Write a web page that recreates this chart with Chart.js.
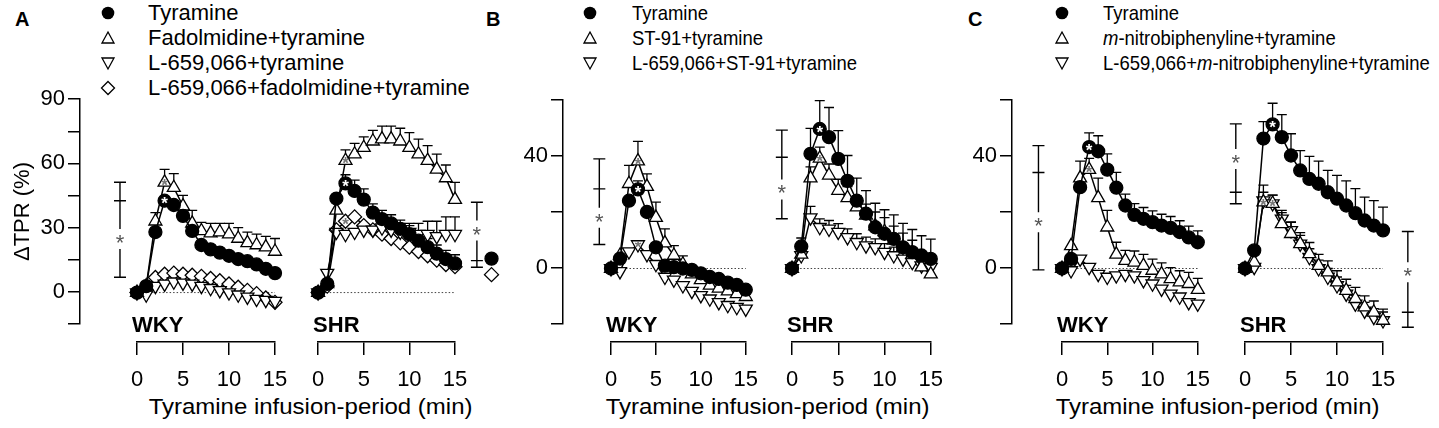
<!DOCTYPE html>
<html>
<head>
<meta charset="utf-8">
<script src="https://cdn.jsdelivr.net/npm/chart.js@4.4.1/dist/chart.umd.min.js"></script>
<style>
  body { margin: 0; background: #fff; font-family: 'Liberation Sans', Arial, sans-serif; color: #000; }
  #fig { position: relative; width: 1439px; height: 428px; overflow: hidden; }
  #fig canvas { position: absolute; }
  .t { position: absolute; white-space: nowrap; line-height: 1; }
  .mk { position: absolute; }
</style>
</head>
<body>
<div id="fig"></div>
<script>
// time points (min)
const minutes = [0, 1, 2, 3, 4, 5, 6, 7, 8, 9, 10, 11, 12, 13, 14, 15];

// Panel A - WKY
const aWkyTyr      = [0, 3, 28, 42.5, 40.5, 35.5, 28.5, 22, 20, 18.5, 17, 15.5, 14.5, 13, 11, 9];
const aWkyTyrErr   = [0, 1, 2, 3, 3, 3, 2, 2, 2, 2, 2, 2, 2, 2, 2, 2];
const aWkyFad      = [0, 3, 33, 51, 48.5, 40, 32, 28.5, 27.5, 28, 27, 25, 23, 22, 21, 19];
const aWkyFadErr   = [0, 1, 4, 6, 6.5, 5, 6, 4, 4.5, 4, 5, 5, 5, 5, 5, 6];
const aWkyL659     = [0, -1, 3, 4, 5, 4.5, 4, 3, 2, 1, 0, -1, -2, -3, -3.5, -4];
const aWkyL659Err  = [0, 1, 2, 3, 3, 3, 3, 3, 3, 3, 3, 3, 3, 3, 3, 3];
const aWkyL659Fad  = [0, 2, 7, 8.5, 9, 8.5, 8, 7.5, 6.5, 5.5, 4, 2.5, 1, -0.5, -2.5, -4.5];
const aWkyL659FadErr = [0, 1, 2, 2, 2, 2, 2, 2, 3, 3, 3, 3, 3, 3, 3, 3];
const aWkyBracket  = [-1.85, 7.1, 51, 42.5, 24.8];   // x, low, high, mark, star

// Panel A - SHR
const aShrTyr      = [0, 4, 43.5, 50.5, 47, 43, 37, 34, 32, 29.5, 27, 24, 21, 18, 15.5, 13.5];
const aShrTyrErr   = [0, 1, 3, 4, 5, 5, 4, 4, 4, 4, 4, 4, 4, 4, 4, 4];
const aShrFad      = [0, 4, 38, 61, 64, 67, 70, 71, 71, 70, 67, 64, 61, 57, 53, 43];
const aShrFadErr   = [0, 1, 3, 5, 5, 5, 5, 6, 6, 6, 7, 7, 7, 7, 6, 8];
const aShrL659     = [0, 9, 28, 27, 28, 29, 29, 30, 29, 28, 28, 27, 27, 26, 27, 27];
const aShrL659Err  = [0, 2, 3, 3, 3, 3, 3, 3, 4, 4, 4, 5, 6, 7, 8, 8];
const aShrL659Fad  = [0, 3, 29, 33, 35, 31, 29, 27, 25, 23, 21, 19, 17, 15, 13, 12];
const aShrL659FadErr = [0, 1, 3, 3, 3, 3, 3, 3, 3, 3, 3, 3, 3, 3, 3, 3];
const aShrBracket  = [17.4, 11.7, 41.8, 14.8, 28.7];
const aShrSideTyr  = [{ x: 19, y: 15.7 }];
const aShrSideDia  = [{ x: 19, y: 8.3 }];

// Panel B - WKY
const bWkyTyr      = [0, 3.5, 24, 28, 20, 7.5, 1, 0.5, 0, -0.5, -1.7, -3, -3.7, -5, -5.8, -7.5];
const bWkyTyrErr   = [0, 1, 2, 3, 2, 2, 1, 1, 1, 1, 1, 1, 1, 1, 1, 1];
const bWkySt91     = [0, 4.6, 30, 38, 29, 18, 9, 4.6, 1.5, -2, -4, -6, -7, -8, -9, -10];
const bWkySt91Err  = [0, 1, 6.5, 7, 4.5, 5.5, 5, 3.5, 3, 3, 3, 3, 3, 3, 3, 3];
const bWkyL659St91 = [0, -1, 6, 8.5, 5, 1.5, -3, -4, -6, -8, -9.5, -10.7, -12, -13, -13.7, -14.3];
const bWkyL659St91Err = [0, 1, 2, 1, 1, 1, 1, 2, 2, 2, 2, 2, 2, 2, 2, 2];
const bWkyBracket  = [-1.3, 8.5, 38.8, 28.2, 18];

// Panel B - SHR
const bShrTyr      = [0, 7.8, 40.6, 49.4, 46.5, 38.8, 31, 24, 19.4, 14.6, 12.3, 10.5, 7.5, 5.8, 4.6, 3.4];
const bShrTyrErr   = [0, 3, 9, 10, 10.5, 10, 9, 8, 8.2, 8.5, 8.5, 8.5, 8.5, 8, 7, 7];
const bShrSt91     = [0, 5, 32, 39, 33, 27.6, 25, 21.7, 18.8, 15, 13, 10, 7.5, 5, 0.5, -2];
const bShrSt91Err  = [0, 2, 4, 4, 4, 4, 4, 4, 4, 5, 5, 5, 5, 5, 5, 5];
const bShrL659St91 = [0, 4.6, 18, 14.6, 14, 12.9, 11, 9.3, 8.1, 7.5, 5.8, 4.6, 3.4, 2.2, 1, 0.5];
const bShrL659St91Err = [0, 2, 4, 3, 3, 3, 3, 3, 3, 3, 3, 3, 3, 3, 3, 3];
const bShrBracket  = [-1.1, 17.6, 49, 39.4, 28];

// Panel C - WKY
const cWkyTyr      = [0, 3.4, 28.8, 43, 41.5, 35, 28.6, 22.3, 19, 17.6, 16.4, 15.2, 14.4, 12.9, 11, 9.3];
const cWkyTyrErr   = [0, 1, 3, 5, 5.5, 5.6, 5.4, 4, 4, 4, 4, 4, 4, 4, 4, 4];
const cWkyMnb      = [0, 8, 32, 35, 25, 14.6, 5, 2.8, 2.2, 1, -0.7, -2, -3.7, -4.8, -5.4, -7.5];
const cWkyMnbErr   = [0, 2, 6, 4, 7, 6, 4.3, 3.6, 4, 4, 4, 4, 4, 4, 4, 4];
const cWkyL659Mnb  = [0, -0.7, 3.4, 0.5, -2, -3, -2.5, -2, -2.5, -4.2, -5.4, -7.2, -9, -10, -12, -12.5];
const cWkyL659MnbErr = [0, 1, 1, 1, 1, 1, 1, 1, 1, 1, 1, 1, 1, 1, 1, 1];
const cWkyBracket  = [-2.6, -0.5, 43.5, 34, 16.4];

// Panel C - SHR
const cShrTyr      = [0, 6.4, 46, 51, 46.5, 40, 34.7, 31.7, 30, 27, 24.7, 22.3, 19.6, 17, 15.2, 13.5];
const cShrTyrErr   = [0, 2, 6, 7.5, 8, 7.7, 7, 8, 8, 7.7, 8.3, 8.7, 8.7, 8.3, 8.8, 8.2];
const cShrMnb      = [0, 2.2, 23.5, 23, 15.8, 12.3, 8.7, 5.2, 1, -1.3, -4.8, -7.8, -10.7, -13.7, -15.5, -18.4];
const cShrMnbErr   = [0, 1, 6, 3, 4, 4, 4, 4, 4, 4, 4, 4, 4, 4, 4, 4];
const cShrL659Mnb  = [0, 0.5, 24, 23, 17.6, 13.5, 8.7, 4, 0, -3, -6, -9, -12.5, -15, -17.2, -18.4];
const cShrL659MnbErr = [0, 1, 3, 3, 3, 3, 3, 3, 3, 3, 3, 3, 3, 3, 3, 3];
const cShrBracketL = [-1.0, 22.9, 51.2, 27, 38.8];
const cShrBracketR = [17.7, -20.8, 13.1, -15.5, -1.3];

// axes
const xTicks = [0, 5, 10, 15];
const aYTicks = [-15, 0, 15, 30, 45, 60, 75, 90];
const aYLabels = [0, 30, 60, 90];
const bcYTicks = [-20, 0, 20, 40, 60];
const bcYLabels = [0, 40];

// legends
const legendA = ['Tyramine', 'Fadolmidine+tyramine', 'L-659,066+tyramine', 'L-659,066+fadolmidine+tyramine'];
const legendB = ['Tyramine', 'ST-91+tyramine', 'L-659,066+ST-91+tyramine'];
const legendC = ['Tyramine', '<i>m</i>-nitrobiphenyline+tyramine', 'L-659,066+<i>m</i>-nitrobiphenyline+tyramine'];

const fig = document.getElementById('fig');
const FONT = "'Liberation Sans', Arial, sans-serif";
const CANVAS_TOP = 88;

// ---------- html text ----------
function addText(html, left, top, size, extra) {
    const d = document.createElement('div');
    d.className = 't';
    d.style.left = left + 'px';
    d.style.top = top + 'px';
    d.style.fontSize = size + 'px';
    if (extra) Object.assign(d.style, extra);
    d.innerHTML = html;
    fig.appendChild(d);
    return d;
}

const shapes = {
    dot:  '<circle cx="8" cy="8" r="6.3" fill="#000"/>',
    up:   '<polygon points="8,2 14,13 2,13" fill="#fff" stroke="#000" stroke-width="1.3"/>',
    down: '<polygon points="2,3 14,3 8,14" fill="#fff" stroke="#000" stroke-width="1.3"/>',
    dia:  '<polygon points="8,1.5 14.5,8 8,14.5 1.5,8" fill="#fff" stroke="#000" stroke-width="1.3"/>'
};

function legend(letter, letterX, markerX, textX, rows, kinds, size, squeeze) {
    addText(letter, letterX, 9, 20, { fontWeight: 'bold' });
    rows.forEach((txt, i) => {
        const cy = 13 + i * 25;
        const m = document.createElement('div');
        m.className = 'mk';
        m.style.left = (markerX - 8) + 'px';
        m.style.top = (cy - 8) + 'px';
        m.innerHTML = '<svg width="16" height="16">' + shapes[kinds[i]] + '</svg>';
        fig.appendChild(m);
        addText(txt, textX, cy - size * 0.52, size,
            squeeze ? { transform: 'scaleX(' + squeeze + ')', transformOrigin: 'left center' } : null);
    });
}

legend('A', 15, 108, 148, legendA, ['dot', 'up', 'down', 'dia'], 22, null);
legend('B', 486, 590, 632, legendB, ['dot', 'up', 'down'], 21, 0.88);
legend('C', 968, 1062, 1103, legendC, ['dot', 'up', 'down'], 21, 0.88);

function xTitle(centerX) {
    const d = addText('Tyramine infusion-period (min)', 0, 396, 22,
        { transform: 'scaleX(1.09)', transformOrigin: 'center center' });
    d.style.left = (centerX - d.offsetWidth / 2) + 'px';
}
xTitle(310);
xTitle(767);
xTitle(1217);

// ---------- drawing extras ----------
const extras = {
    id: 'extras',
    beforeDatasetsDraw(chart, args, o) {
        if (!o.on) return;
        const ctx = chart.ctx, xs = chart.scales.x, ys = chart.scales.y;
        ctx.save();
        // dotted zero line
        ctx.strokeStyle = '#444';
        ctx.lineWidth = 1;
        ctx.setLineDash([1.5, 2]);
        ctx.beginPath();
        ctx.moveTo(xs.getPixelForValue(0.5), ys.getPixelForValue(0));
        ctx.lineTo(xs.getPixelForValue(15), ys.getPixelForValue(0));
        ctx.stroke();
        ctx.setLineDash([]);
        // upper error bars
        ctx.strokeStyle = '#000';
        ctx.lineWidth = 1.3;
        chart.data.datasets.forEach(ds => {
            if (!ds.err) return;
            ds.data.forEach((v, i) => {
                const e = ds.err[i];
                if (!e) return;
                const x = xs.getPixelForValue(minutes[i]);
                const y0 = ys.getPixelForValue(v);
                const y1 = ys.getPixelForValue(v + e);
                if (y0 - y1 < 8) return;
                ctx.beginPath();
                ctx.moveTo(x, y0);
                ctx.lineTo(x, y1);
                ctx.moveTo(x - 5, y1);
                ctx.lineTo(x + 5, y1);
                ctx.stroke();
            });
        });
        ctx.restore();
    },
    afterDatasetsDraw(chart, args, o) {
        if (!o.on) return;
        const ctx = chart.ctx, xs = chart.scales.x, ys = chart.scales.y;
        ctx.save();
        // group markers beside the frame (the point element skips anything outside the plot area)
        chart.data.datasets.forEach((ds, di) => {
            if (!ds.beside) return;
            chart.getDatasetMeta(di).data.forEach(el => {
                ctx.fillStyle = ds.pointBackgroundColor;
                ctx.strokeStyle = '#000';
                ctx.lineWidth = ds.pointBorderWidth;
                Chart.helpers.drawPoint(ctx, {
                    pointStyle: ds.pointStyle, radius: ds.pointRadius, rotation: 0,
                    borderWidth: ds.pointBorderWidth
                }, el.x, el.y);
            });
        });
        // stars inside markers
        (o.marks || []).forEach(([di, pi, col]) => {
            const p = chart.getDatasetMeta(di).data[pi];
            ctx.fillStyle = col;
            ctx.font = 'bold 17px ' + FONT;
            ctx.textAlign = 'center';
            ctx.textBaseline = 'middle';
            ctx.fillText('*', p.x, p.y + 4);
        });
        // significance brackets
        (o.brackets || []).forEach(b => {
            const [bx, lo, hi, mark, star] = b;
            const x = xs.getPixelForValue(bx);
            const yl = ys.getPixelForValue(lo), yh = ys.getPixelForValue(hi);
            const ym = ys.getPixelForValue(mark), yst = ys.getPixelForValue(star);
            ctx.strokeStyle = '#000';
            ctx.lineWidth = 1.4;
            ctx.beginPath();
            ctx.moveTo(x, yh);
            ctx.lineTo(x, yst - 10);
            ctx.moveTo(x, yst + 10);
            ctx.lineTo(x, yl);
            [yh, yl, ym].forEach(y => { ctx.moveTo(x - 6, y); ctx.lineTo(x + 6, y); });
            ctx.stroke();
            ctx.fillStyle = '#555';
            ctx.font = '22px ' + FONT;
            ctx.textAlign = 'center';
            ctx.textBaseline = 'middle';
            ctx.fillText('*', x, yst + 5);
        });
        // strain label
        if (o.group) {
            ctx.fillStyle = '#000';
            ctx.font = 'bold 22px ' + FONT;
            ctx.textAlign = 'left';
            ctx.textBaseline = 'middle';
            ctx.fillText(o.group, xs.getPixelForValue(0) - 5, 326 - CANVAS_TOP);
        }
        ctx.restore();
    }
};
Chart.register(extras);

// ---------- series styles ----------
const dot  = { pointStyle: 'circle', pointRadius: 6.5, pointBackgroundColor: '#000' };
const up   = { pointStyle: 'triangle', pointRadius: 7.5, pointBackgroundColor: '#fff' };
const down = { pointStyle: 'triangle', pointRotation: 180, pointRadius: 7.5, pointBackgroundColor: '#fff' };
const dia  = { pointStyle: 'rectRot', pointRadius: 7, pointBackgroundColor: '#fff' };

function series(data, err, style) {
    return Object.assign({
        data: data, err: err,
        borderColor: '#000', borderWidth: 1.5,
        pointBorderColor: '#000', pointBorderWidth: 1.3,
        pointHoverRadius: 0, tension: 0, fill: false, clip: false
    }, style);
}

// single markers beside the plot frame
function beside(data, style) {
    return Object.assign(series(data, null, style), { showLine: false, beside: true });
}

function makeCanvas(left, top, w, h) {
    const c = document.createElement('canvas');
    c.width = w;
    c.height = h;
    c.style.left = left + 'px';
    c.style.top = top + 'px';
    c.style.width = w + 'px';
    c.style.height = h + 'px';
    fig.appendChild(c);
    return c;
}

// y axis alone, drawn at axisX
function yAxisChart(axisX, left, top, h, yMin, yMax, ticks, labels, title) {
    const w = axisX - left + 3;
    const c = makeCanvas(left, top, w, h);
    return new Chart(c, {
        type: 'line',
        data: { labels: [], datasets: [] },
        options: {
            responsive: false, animation: false, devicePixelRatio: 1,
            layout: { padding: { left: 0, right: 3, top: 15, bottom: 15 } },
            plugins: { legend: { display: false }, tooltip: { enabled: false }, extras: { on: false } },
            scales: {
                x: { type: 'linear', display: false },
                y: {
                    type: 'linear', min: yMin, max: yMax,
                    afterFit: s => { s.width = axisX - left; },
                    afterBuildTicks: s => { s.ticks = ticks.map(v => ({ value: v })); },
                    border: { display: true, color: '#000', width: 1.5 },
                    grid: { display: true, drawOnChartArea: false, drawTicks: true, tickLength: 12, color: '#000', lineWidth: 1.5 },
                    ticks: {
                        color: '#000', padding: 3, font: { family: FONT, size: 22 },
                        callback: v => labels.includes(v) ? String(v) : ''
                    },
                    title: title ? {
                        display: true, text: title, color: '#000',
                        font: { family: FONT, size: 22 }, padding: { top: 10, bottom: 0 }
                    } : { display: false }
                }
            }
        }
    });
}

// one strain sub-plot
function subChart(areaL, areaR, left, right, top, yMin, yMax, datasets, opts) {
    const h = 320;
    const c = makeCanvas(left, CANVAS_TOP, right - left, h);
    return new Chart(c, {
        type: 'line',
        data: { labels: minutes, datasets: datasets },
        options: {
            responsive: false, animation: false, devicePixelRatio: 1,
            layout: { padding: { left: areaL - left, right: right - areaR, top: top - CANVAS_TOP, bottom: h - 50 - (342 - CANVAS_TOP) } },
            plugins: { legend: { display: false }, tooltip: { enabled: false }, extras: Object.assign({ on: true }, opts) },
            scales: {
                x: {
                    type: 'linear', min: 0, max: 15,
                    afterFit: s => { s.height = 50; },
                    afterBuildTicks: s => { s.ticks = xTicks.map(v => ({ value: v })); },
                    border: { display: true, color: '#000', width: 1.5 },
                    grid: { display: true, drawOnChartArea: false, drawTicks: true, tickLength: 13, color: '#000', lineWidth: 1.5 },
                    ticks: { color: '#000', padding: 12, maxRotation: 0, font: { family: FONT, size: 22 } }
                },
                y: { type: 'linear', display: false, min: yMin, max: yMax }
            }
        }
    });
}

// scale limits: y axis frame ends at 325 px, the x axis sits 17 px lower
const aMin = -15 - 17 * 105 / 227;
const bcMin = -20 - 17 * 80 / 226;

yAxisChart(80, 0, 83, 257, -15, 90, aYTicks, aYLabels, 'ΔTPR (%)');
yAxisChart(563, 505, 84, 256, -20, 60, bcYTicks, bcYLabels, null);
yAxisChart(1012, 960, 84, 256, -20, 60, bcYTicks, bcYLabels, null);

// Panel A
subChart(137, 275, 86, 300, 98, aMin, 90, [
    series(aWkyTyr, aWkyTyrErr, dot),
    series(aWkyFad, aWkyFadErr, up),
    series(aWkyL659, aWkyL659Err, down),
    series(aWkyL659Fad, aWkyL659FadErr, dia)
], { group: 'WKY', brackets: [aWkyBracket], marks: [[0, 3, '#fff'], [1, 3, '#777']] });

subChart(317, 455, 300, 505, 98, aMin, 90, [
    series(aShrTyr, aShrTyrErr, dot),
    series(aShrFad, aShrFadErr, up),
    series(aShrL659, aShrL659Err, down),
    series(aShrL659Fad, aShrL659FadErr, dia),
    beside(aShrSideTyr, dot),
    beside(aShrSideDia, dia)
], { group: 'SHR', brackets: [aShrBracket], marks: [[0, 3, '#fff'], [1, 3, '#777'], [3, 3, '#777']] });

// Panel B
subChart(611, 750, 585, 770, 99, bcMin, 60, [
    series(bWkyTyr, bWkyTyrErr, dot),
    series(bWkySt91, bWkySt91Err, up),
    series(bWkyL659St91, bWkyL659St91Err, down)
], { group: 'WKY', brackets: [bWkyBracket], marks: [[0, 3, '#fff'], [1, 3, '#777'], [2, 3, '#777']] });

subChart(792, 931, 770, 955, 99, bcMin, 60, [
    series(bShrTyr, bShrTyrErr, dot),
    series(bShrSt91, bShrSt91Err, up),
    series(bShrL659St91, bShrL659St91Err, down)
], { group: 'SHR', brackets: [bShrBracket], marks: [[0, 3, '#fff'], [1, 3, '#777']] });

// Panel C
subChart(1062, 1200, 1020, 1222, 99, bcMin, 60, [
    series(cWkyTyr, cWkyTyrErr, dot),
    series(cWkyMnb, cWkyMnbErr, up),
    series(cWkyL659Mnb, cWkyL659MnbErr, down)
], { group: 'WKY', brackets: [cWkyBracket], marks: [[0, 3, '#fff'], [1, 3, '#777']] });

subChart(1245, 1383, 1222, 1439, 99, bcMin, 60, [
    series(cShrTyr, cShrTyrErr, dot),
    series(cShrMnb, cShrMnbErr, up),
    series(cShrL659Mnb, cShrL659MnbErr, down)
], { group: 'SHR', brackets: [cShrBracketL, cShrBracketR], marks: [[0, 3, '#fff'], [1, 2, '#777'], [1, 3, '#777']] });
</script>
</body>
</html>
